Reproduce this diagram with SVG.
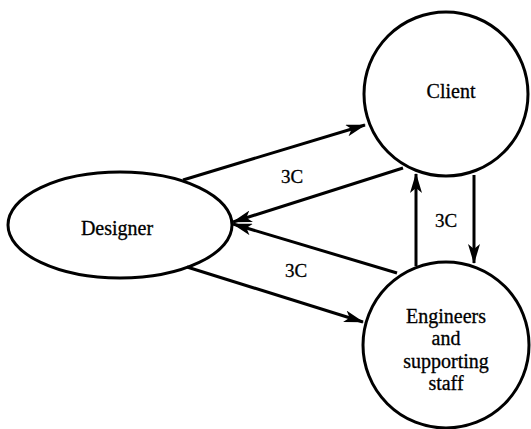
<svg xmlns="http://www.w3.org/2000/svg" width="531" height="429" viewBox="0 0 531 429">
<style>
.node{fill:#fff;stroke:#000;stroke-width:3}
.lbl{font-size:20px;fill:#000;stroke:#000;stroke-width:0.3;text-anchor:middle}
.edge{stroke:#000;stroke-width:3;fill:none;marker-end:url(#ah)}
.el{font-size:19px;fill:#000;stroke:#000;stroke-width:0.3;text-anchor:middle}
</style>
<defs>
<marker id="ah" viewBox="0 0 20 12" refX="19" refY="6" markerWidth="20" markerHeight="12" markerUnits="userSpaceOnUse" orient="auto">
<path d="M0,0 L20,6 L0,12 L5,6 Z" fill="#000"/>
</marker>
</defs>
<rect width="531" height="429" fill="#fff"/>
<g font-family="'Liberation Serif', 'DejaVu Serif', serif">
<g id="designer">
<ellipse class="node" cx="120" cy="225" rx="112" ry="53"/>
<text class="lbl" x="117" y="235">Designer</text>
</g>
<g id="client">
<circle class="node" cx="446" cy="94" r="82"/>
<text class="lbl" x="451" y="98">Client</text>
</g>
<g id="engineers">
<circle class="node" cx="446" cy="345" r="83"/>
<text class="lbl" x="446" y="323">Engineers</text>
<text class="lbl" x="446" y="345">and</text>
<text class="lbl" x="446" y="368">supporting</text>
<text class="lbl" x="446" y="390">staff</text>
</g>
<g id="connectors">
<line class="edge" x1="183" y1="180" x2="365" y2="125"/>
<line class="edge" x1="403" y1="168" x2="233" y2="222"/>
<line class="edge" x1="397" y1="273" x2="233" y2="224"/>
<line class="edge" x1="187" y1="267" x2="363" y2="322"/>
<line class="edge" x1="416" y1="266" x2="416" y2="174"/>
<line class="edge" x1="474" y1="175" x2="474" y2="263"/>
<text class="el" x="292" y="183">3C</text>
<text class="el" x="296" y="277">3C</text>
<text class="el" x="446" y="227">3C</text>
</g>
</g>
</svg>
